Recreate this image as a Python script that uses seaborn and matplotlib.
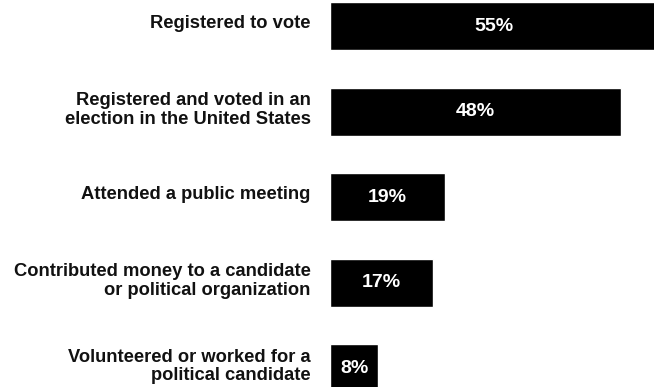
import matplotlib.pyplot as plt
import matplotlib.transforms as mtransforms
import pandas as pd
import seaborn as sns

# Civic participation shares (percent)
categories = [
    "Registered to vote",
    "Registered and voted in an\nelection in the United States",
    "Attended a public meeting",
    "Contributed money to a candidate\nor political organization",
    "Volunteered or worked for a\npolitical candidate",
]
values = [55, 48, 19, 17, 8]
value_labels = ["55%", "48%", "19%", "17%", "8%"]

df = pd.DataFrame({"activity": categories, "pct": values})

sns.set_theme(style="white")
plt.rcParams["font.family"] = ["Liberation Sans", "DejaVu Sans"]

fig = plt.figure(figsize=(6.54, 3.87), dpi=100)
ax = fig.add_axes([330 / 654, 0, 324 / 654, 1])

sns.barplot(data=df, x="pct", y="activity", orient="h", color="black",
            saturation=1, width=0.56, ax=ax)

xmax = 53.5
ax.set_xlim(0, xmax)
ax.set_ylim(4.22, -0.304)

for i, (v, lab) in enumerate(zip(values, value_labels)):
    xc = min(v, xmax) / 2 + (0.4 if v > xmax else 0)
    ax.text(xc, i, lab, ha="center", va="center", color="white",
            fontsize=14, fontweight="bold")

ax.set_xlabel("")
ax.set_ylabel("")
ax.set_xticks([])
ax.tick_params(axis="y", length=0, pad=14)
for t in ax.get_yticklabels():
    t.set_fontsize(13.2)
    t.set_fontweight("bold")
    t.set_color("#111111")
    t.set_multialignment("right")
    t.set_linespacing(1.1)
    t.set_transform(t.get_transform() + mtransforms.ScaledTranslation(0, 3 / 72, fig.dpi_scale_trans))
sns.despine(ax=ax, left=True, bottom=True)

fig.savefig("out.png", dpi=100)
